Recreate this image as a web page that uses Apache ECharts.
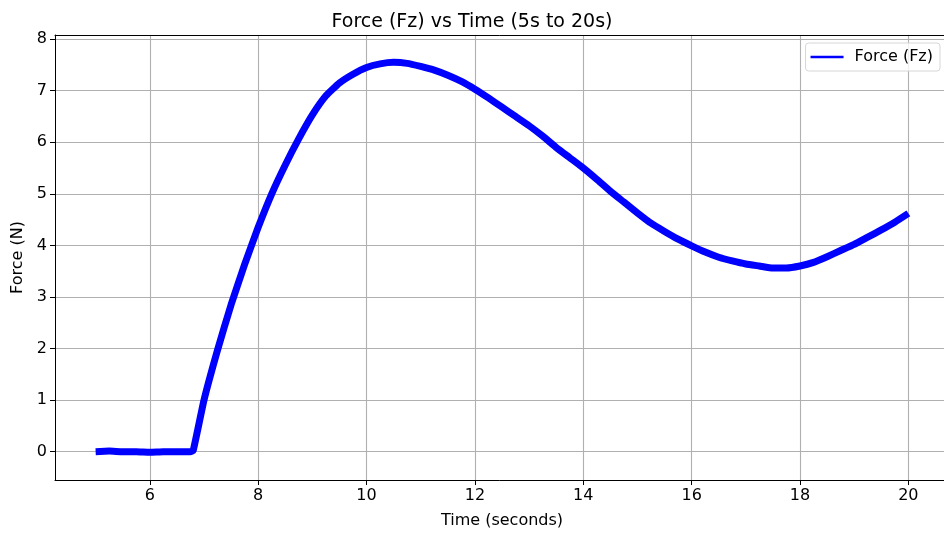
<!DOCTYPE html>
<html>
<head>
<meta charset="utf-8">
<script src="https://cdn.jsdelivr.net/npm/echarts@6/dist/echarts.min.js"></script>
<style>html,body{margin:0;padding:0;background:#fff}#c{width:944px;height:535px}</style>
</head>
<body>
<div id="c"></div>
<script>
var times = [5.0,5.25,5.5,5.75,6.0,6.25,6.5,6.75,6.8,7.0,7.25,7.5,7.75,8.0,8.25,8.5,8.75,9.0,9.25,9.5,9.75,10.0,10.25,10.5,10.75,11.0,11.25,11.5,11.75,12.0,12.25,12.5,12.75,13.0,13.25,13.5,13.75,14.0,14.25,14.5,14.75,15.0,15.25,15.5,15.75,16.0,16.25,16.5,16.75,17.0,17.25,17.5,17.75,18.0,18.25,18.5,18.75,19.0,19.25,19.5,19.75,20.0];
var forces = [0.0,0.01,0.0,0.0,-0.01,0.0,0.0,0.0,0.02,1.0,1.97,2.85,3.63,4.35,5.0,5.56,6.07,6.53,6.9,7.15,7.32,7.45,7.52,7.55,7.53,7.47,7.4,7.3,7.18,7.03,6.86,6.68,6.5,6.32,6.12,5.9,5.7,5.5,5.28,5.05,4.84,4.63,4.43,4.27,4.12,3.99,3.87,3.77,3.7,3.64,3.6,3.56,3.56,3.6,3.67,3.78,3.9,4.02,4.16,4.3,4.45,4.62];
var xTicks = [6,8,10,12,14,16,18,20];
var yTicks = [0,1,2,3,4,5,6,7,8];

var font = 'DejaVu Sans';
var data = times.map(function(t,i){return [t, forces[i]];});
var chart = echarts.init(document.getElementById('c'), null, {renderer:'canvas'});
chart.setOption({
  animation: false,
  textStyle: {fontFamily: font},
  title: {
    text: 'Force (Fz) vs Time (5s to 20s)',
    left: 'center', top: 8,
    textStyle: {fontFamily: font, fontSize: 19, fontWeight: 'normal', color: '#000'}
  },
  legend: {
    right: 4, top: 43,
    data: [{name: 'Force (Fz)', icon: 'rect'}],
    itemWidth: 33, itemHeight: 2.5, itemGap: 10,
    padding: [6, 7, 6, 5],
    borderColor: '#d6d6d6', borderWidth: 1, borderRadius: 3,
    backgroundColor: 'rgba(255,255,255,0.8)',
    itemStyle: {color: '#0000ff'},
    textStyle: {fontFamily: font, fontSize: 16, color: '#000', padding: [0,0,0,6]}
  },
  grid: {left: 55, top: 35, right: -5, bottom: 55, containLabel: false, outerBoundsMode: 'none'},
  xAxis: [{
    type: 'value', min: 4.25, max: 20.75,
    name: 'Time (seconds)', nameLocation: 'middle', nameGap: 33,
    nameTextStyle: {fontFamily: font, fontSize: 16, color: '#000'},
    axisLine: {show: true, onZero: false, lineStyle: {color: '#000', width: 1}},
    axisTick: {show: true, length: 5, lineStyle: {color: '#000', width: 1}, customValues: xTicks},
    axisLabel: {fontFamily: font, fontSize: 16, color: '#000', margin: 8, customValues: xTicks},
    splitLine: {show: true, lineStyle: {color: '#b0b0b0', width: 1.1}}
  }, {
    type: 'value', min: 4.25, max: 20.75, position: 'top',
    axisLine: {show: true, onZero: false, lineStyle: {color: '#000', width: 1}},
    axisTick: {show: false}, axisLabel: {show: false}, splitLine: {show: false}
  }],
  yAxis: {
    type: 'value', min: -0.55, max: 8.08,
    name: 'Force (N)', nameLocation: 'middle', nameGap: 28, nameRotate: 90,
    nameTextStyle: {fontFamily: font, fontSize: 16, color: '#000'},
    axisLine: {show: true, onZero: false, lineStyle: {color: '#000', width: 1}},
    axisTick: {show: true, length: 5, lineStyle: {color: '#000', width: 1}, customValues: yTicks},
    axisLabel: {fontFamily: font, fontSize: 16, color: '#000', margin: 8, customValues: yTicks},
    splitLine: {show: true, lineStyle: {color: '#b0b0b0', width: 1.1}}
  },
  series: [{
    name: 'Force (Fz)', type: 'line', data: data,
    xAxisIndex: 0, yAxisIndex: 0,
    symbol: 'none', smooth: 0.15,
    lineStyle: {color: '#0000ff', width: 7, join: 'round'},
    itemStyle: {color: '#0000ff'}
  }]
});
</script>
</body>
</html>
